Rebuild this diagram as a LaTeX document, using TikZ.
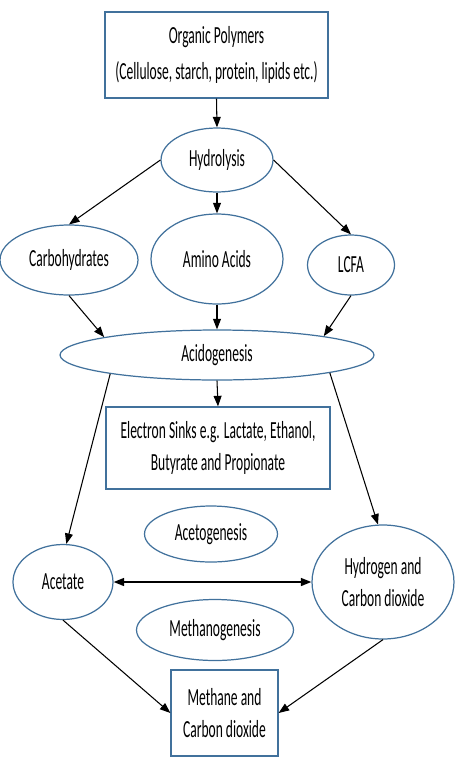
\documentclass[tikz,border=0pt]{standalone}
\usepackage{fontspec}
\setmainfont{Carlito}[FakeStretch=0.55]
\usetikzlibrary{shapes.geometric,arrows.meta}
\definecolor{edgeblue}{HTML}{41719C}
\begin{document}
\begin{tikzpicture}[x=0.02cm, y=-0.02cm,
  font=\fontsize{14}{18}\selectfont,
  stage/.style={ellipse, draw=edgeblue, line width=0.7pt, inner sep=0pt, align=center},
  prod/.style={rectangle, draw=edgeblue, line width=0.7pt, inner sep=0pt, align=center},
  flow/.style={line width=0.6pt, -{Triangle[length=6pt,width=4.5pt]}}]
\useasboundingbox (0,0) rectangle (462,778);
\node[prod, minimum width=4.46cm, minimum height=1.72cm, font=\fontsize{14}{20}\selectfont] (poly) at (216.5,55){Organic Polymers\\(Cellulose, starch, protein, lipids etc.)};
\node[stage, minimum width=2.24cm, minimum height=1.28cm] (hyd) at (217,160){Hydrolysis};
\node[stage, minimum width=2.76cm, minimum height=1.40cm] (carb) at (69,260){Carbohydrates};
\node[stage, minimum width=2.64cm, minimum height=1.80cm] (amino) at (217,259){Amino Acids};
\node[stage, minimum width=1.74cm, minimum height=1.20cm] (lcfa) at (351,265){LCFA};
\node[stage, minimum width=6.28cm, minimum height=1.00cm] (acid) at (217,355){Acidogenesis};
\node[prod, minimum width=4.48cm, minimum height=1.64cm] (sinks) at (218,448){Electron Sinks e.g. Lactate, Ethanol,\\Butyrate and Propionate};
\node[stage, minimum width=2.66cm, minimum height=1.12cm] (aceto) at (211,534){Acetogenesis};
\node[stage, minimum width=2.00cm, minimum height=1.50cm] (acetate) at (63,582){Acetate};
\node[stage, minimum width=2.84cm, minimum height=2.28cm] (htwo) at (383,582){Hydrogen and\\Carbon dioxide};
\node[stage, minimum width=3.14cm, minimum height=1.22cm] (methano) at (215,630){Methanogenesis};
\node[prod, minimum width=2.14cm, minimum height=1.72cm] (methane) at (224.5,713){Methane and\\Carbon dioxide};
\draw[flow](poly.south) -- (hyd.north);
\draw[flow](hyd.west) -- (carb.north);
\draw[flow](hyd.south) -- (amino.north);
\draw[flow](hyd.east) -- (lcfa.north);
\draw[flow](carb.south) -- (acid.171);
\draw[flow](amino.south) -- (acid.north);
\draw[flow](lcfa.south) -- (acid.10);
\draw[flow](acid.south) -- (sinks.north);
\draw[flow](acid.190) -- (acetate.85);
\draw[flow](acid.-9) -- (htwo.95);
\draw[line width=1pt, {Triangle[length=6pt,width=4.5pt]}-{Triangle[length=6pt,width=4.5pt]}](acetate.east) -- (htwo.west);
\draw[flow](acetate.south) -- (methane.west);
\draw[flow](htwo.south) -- (methane.east);
\end{tikzpicture}
\end{document}
